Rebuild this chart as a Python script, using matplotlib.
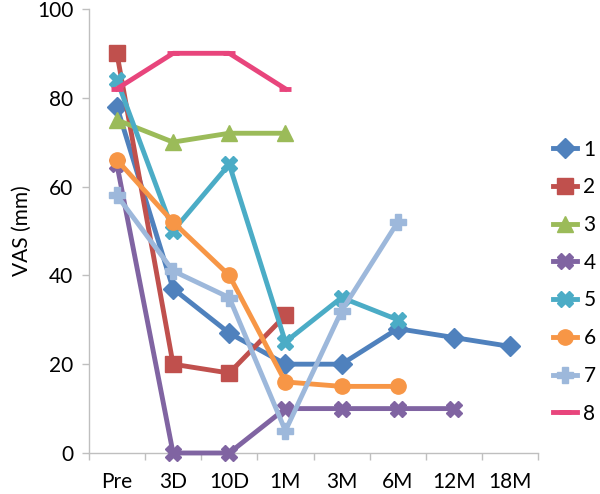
import matplotlib.pyplot as plt
import numpy as np

# timepoints and VAS values per patient (None = no measurement)
timepoints = ['Pre', '3D', '10D', '1M', '3M', '6M', '12M', '18M']
p1 = [78, 37, 27, 20, 20, 28, 26, 24]
p2 = [90, 20, 18, 31]
p3 = [75, 70, 72, 72]
p4 = [65, 0, 0, 10, 10, 10, 10]
p5 = [84, 50, 65, 25, 35, 30]
p6 = [66, 52, 40, 16, 15, 15]
p7 = [58, 41, 35, 5, 32, 52]
p8 = [82, 90, 90, 82]
series_names = ['1', '2', '3', '4', '5', '6', '7', '8']

plt.rcParams['font.family'] = ['Lato', 'DejaVu Sans']

colors = ['#4F81BD', '#C0504D', '#9BBB59', '#8064A2', '#4BACC6', '#F79646', '#9DB8DB', '#E8457C']
markers = ['D', 's', '^', 'X', 'X', 'o', 'P', '_']
sizes = [10, 11, 11, 11, 11, 11, 11, 9]

fig = plt.figure(figsize=(6, 4.94), dpi=100)
ax = fig.add_axes([0.148, 0.083, 0.749, 0.899])

data = [p1, p2, p3, p4, p5, p6, p7, p8]
for i, vals in enumerate(data):
  x = np.arange(len(vals))
  ax.plot(x, vals, color=colors[i], marker=markers[i], markersize=sizes[i],
          lw=3.5, mew=3.5 if markers[i] == '_' else 1, mec=colors[i],
          label=series_names[i], clip_on=False, zorder=3)

ax.set_xlim(-0.5, len(timepoints) - 0.5)
ax.set_ylim(0, 100)
ax.set_yticks([0, 20, 40, 60, 80, 100])
ax.set_xticks(np.arange(len(timepoints)))
ax.set_xticklabels(timepoints)
ax.set_xticks(np.arange(len(timepoints) + 1) - 0.5, minor=True)
ax.tick_params(axis='x', which='major', length=0, pad=14, labelsize=15)
ax.tick_params(axis='x', which='minor', length=5, color='#BFBFBF', width=1)
ax.tick_params(axis='y', length=5, color='#BFBFBF', width=1, labelsize=15, pad=6)
for s in ['top', 'right']:
  ax.spines[s].set_visible(False)
for s in ['left', 'bottom']:
  ax.spines[s].set_color('#BFBFBF')
  ax.spines[s].set_linewidth(1)
ax.set_ylabel('VAS (mm)', fontsize=15, labelpad=4)

fig.legend(loc='center left', bbox_to_anchor=(0.922, 0.43), frameon=False,
           fontsize=15, handlelength=1.15, handletextpad=0.3, labelspacing=0.85,
           borderaxespad=0, borderpad=0)

plt.savefig('out.png', dpi=100)
